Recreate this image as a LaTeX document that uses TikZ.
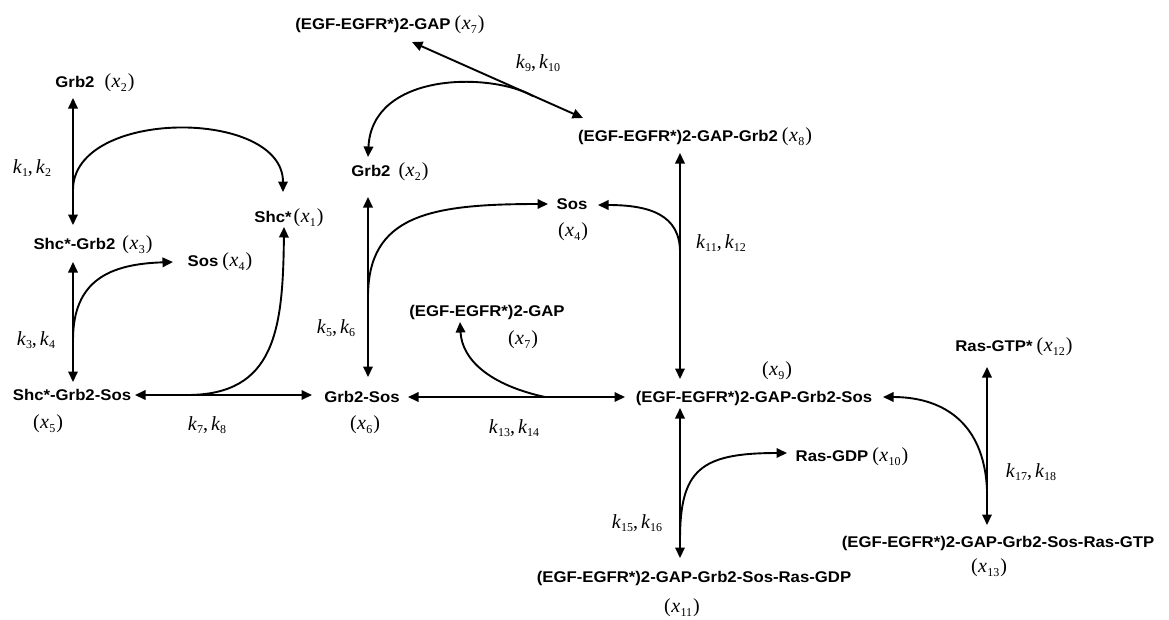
\documentclass[tikz,border=0pt]{standalone}
\usepackage{fontspec}
\setmainfont{Liberation Serif}
\newfontfamily\lbf[FakeStretch=1.08]{Liberation Sans}
\usetikzlibrary{arrows.meta}
\newcommand\mytxt[1]{{\lbf\bfseries\fontsize{15.5}{18}\selectfont #1}}
\newcommand\sbs[1]{\raisebox{-3.5pt}{\fontsize{12}{12}\selectfont #1}}
\newcommand\xx[1]{{\fontsize{20}{22}\selectfont(\kern0.5pt\textit{x}\kern0.3pt\sbs{#1}\kern1pt)}}
\newcommand\kk[2]{{\fontsize{20}{22}\selectfont\textit{k}\sbs{#1},\kern3pt\textit{k}\sbs{#2}}}
\tikzset{
  lab/.style={inner sep=0pt, anchor=center},
  dbl/.style={{Triangle[length=10.5pt,width=9.5pt]}-{Triangle[length=10.5pt,width=9.5pt]}, line width=1.9pt},
  one/.style={-{Triangle[length=10.5pt,width=9.5pt]}, line width=1.9pt},
}
\begin{document}
\begin{tikzpicture}[x=1pt,y=-1pt]
\useasboundingbox[fill=white] (0,0) rectangle (1169,619);
% species
\node[lab] (g2a) at (95,83) {\mytxt{Grb2}\hspace{10pt}\xx{2}};
\node[lab] (x1) at (289,218) {\mytxt{Shc*}\hspace{2pt}\xx{1}};
\node[lab] (x3) at (93,245) {\mytxt{Shc*-Grb2}\hspace{7pt}\xx{3}};
\node[lab] (x4a) at (220,262) {\mytxt{Sos}\hspace{4pt}\xx{4}};
\node[lab] (x5) at (72,395) {\mytxt{Shc*-Grb2-Sos}};
\node[lab] (x5b) at (48,424) {\xx{5}};
\node[lab] (x6) at (362,397) {\mytxt{Grb2-Sos}};
\node[lab] (x6b) at (365,425) {\xx{6}};
\node[lab] (g2b) at (390,172) {\mytxt{Grb2}\hspace{8pt}\xx{2}};
\node[lab] (x7a) at (390,25) {\mytxt{(EGF-EGFR*)2-GAP}\hspace{4pt}\xx{7}};
\node[lab] (x8) at (695,137) {\mytxt{(EGF-EGFR*)2-GAP-Grb2}\hspace{4pt}\xx{8}};
\node[lab] (x4b) at (572,204) {\mytxt{Sos}};
\node[lab] (x4bb) at (573,232) {\xx{4}};
\node[lab] (x7b) at (487,312) {\mytxt{(EGF-EGFR*)2-GAP}};
\node[lab] (x7bb) at (523,340) {\xx{7}};
\node[lab] (x9) at (754,398) {\mytxt{(EGF-EGFR*)2-GAP-Grb2-Sos}};
\node[lab] (x9b) at (777,371) {\xx{9}};
\node[lab] (x10) at (852,457) {\mytxt{Ras-GDP}\hspace{4pt}\xx{10}};
\node[lab] (x11) at (694,578) {\mytxt{(EGF-EGFR*)2-GAP-Grb2-Sos-Ras-GDP}};
\node[lab] (x11b) at (682,608) {\xx{11}};
\node[lab] (x12) at (1014,347) {\mytxt{Ras-GTP*}\hspace{4pt}\xx{12}};
\node[lab] (x13) at (998,543) {\mytxt{(EGF-EGFR*)2-GAP-Grb2-Sos-Ras-GTP}};
\node[lab] (x13b) at (989,568) {\xx{13}};
% rate labels
\node[lab] (r1) at (32,168) {\kk{1}{2}};
\node[lab] (r2) at (36,340) {\kk{3}{4}};
\node[lab] (r3) at (336,328) {\kk{5}{6}};
\node[lab] (r4) at (207,425) {\kk{7}{8}};
\node[lab] (r5) at (538,63) {\kk{9}{10}};
\node[lab] (r6) at (721,243) {\kk{11}{12}};
\node[lab] (r7) at (514,428) {\kk{13}{14}};
\node[lab] (r8) at (637,523) {\kk{15}{16}};
\node[lab] (r9) at (1031,472) {\kk{17}{18}};
% arrow end points
\coordinate (a1s) at (73,98);   \coordinate (a1e) at (73,225);
\coordinate (a2s) at (73,262);  \coordinate (a2e) at (73,382);
\coordinate (a3s) at (135,395); \coordinate (a3e) at (312,395);
\coordinate (a4s) at (368,197); \coordinate (a4e) at (368,377);
\coordinate (a5s) at (412,42);  \coordinate (a5e) at (583,118);
\coordinate (a6s) at (680,153); \coordinate (a6e) at (680,379);
\coordinate (a7s) at (408,397); \coordinate (a7e) at (625,397);
\coordinate (a8s) at (680,408); \coordinate (a8e) at (680,558);
\coordinate (a9s) at (987,367); \coordinate (a9e) at (987,525);
% branch points and curve tips
\coordinate (b1) at (73,190);  \coordinate (t1) at (283,192);
\coordinate (b2) at (73,340);  \coordinate (t2) at (173,262);
\coordinate (b3) at (187,395); \coordinate (t3) at (284,227);
\coordinate (b4) at (533,96);  \coordinate (t4) at (368,157);
\coordinate (b5) at (368,297); \coordinate (t5) at (548,204);
\coordinate (b6) at (680,252); \coordinate (t6) at (598,205);
\coordinate (b7) at (545,397); \coordinate (t7) at (460,322);
\coordinate (b8) at (680,540); \coordinate (t8) at (787,453);
\coordinate (b9) at (987,490); \coordinate (t9) at (883,397);
% straight reversible arrows
\draw[dbl] (a1s) -- (a1e);
\draw[dbl] (a2s) -- (a2e);
\draw[dbl] (a3s) -- (a3e);
\draw[dbl] (a4s) -- (a4e);
\draw[dbl] (a5s) -- (a5e);
\draw[dbl] (a6s) -- (a6e);
\draw[dbl] (a7s) -- (a7e);
\draw[dbl] (a8s) -- (a8e);
\draw[dbl] (a9s) -- (a9e);
% curved arrows
\draw[one] (b1) .. controls (73,108) and (283,108) .. (t1);
\draw[one] (b2) .. controls (73,280) and (110,264) .. (t2);
\draw[one] (b3) .. controls (275,395) and (283,330) .. (t3);
\draw[one] (b4) .. controls (490,72) and (372,72) .. (t4);
\draw[one] (b5) .. controls (368,215) and (430,204) .. (t5);
\draw[one] (b6) .. controls (680,215) and (650,205) .. (t6);
\draw[one] (b7) .. controls (490,385) and (462,360) .. (t7);
\draw[one] (b8) .. controls (680,470) and (700,453) .. (t8);
\draw[one] (b9) .. controls (984,420) and (940,397) .. (t9);
\end{tikzpicture}
\end{document}
